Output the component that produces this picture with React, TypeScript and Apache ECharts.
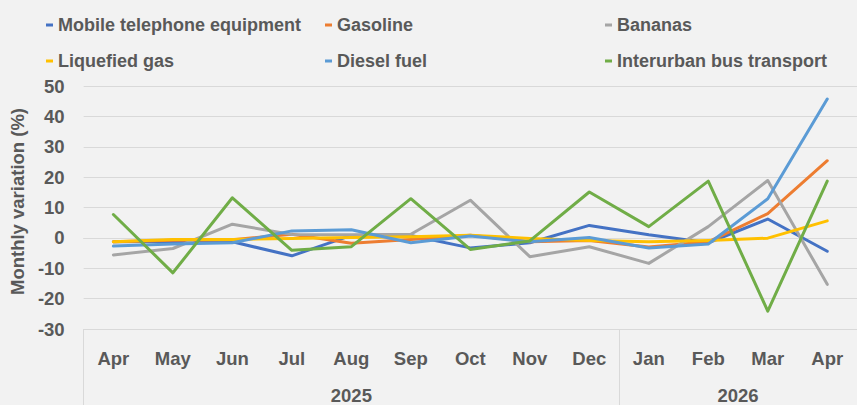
import React, { useEffect, useRef } from "react";
import * as echarts from "echarts";

const months = ["Apr", "May", "Jun", "Jul", "Aug", "Sep", "Oct", "Nov", "Dec", "Jan", "Feb", "Mar", "Apr"];
const years = ["2025", "2026"];
const yearMonthCounts = [9, 4];

const seriesNames = [
  "Mobile telephone equipment",
  "Gasoline",
  "Bananas",
  "Liquefied gas",
  "Diesel fuel",
  "Interurban bus transport",
];

const mobilePhone = [-1.3, -1.2, -1.3, -5.9, 0.8, 0.8, -3.3, -1.6, 4.1, 1.0, -1.6, 6.2, -4.4];
const gasoline = [-1.3, -0.8, -0.6, 1.2, -1.8, -0.5, 0.9, -1.3, -0.9, -3.0, -1.3, 8.0, 25.4];
const bananas = [-5.6, -3.5, 4.5, 1.1, 1.0, 1.2, 12.4, -6.2, -2.9, -8.4, 3.7, 18.9, -15.3];
const liquefiedGas = [-1.3, -0.5, -0.5, -0.2, 0.1, 0.4, 0.9, -0.2, -0.9, -1.3, -0.9, -0.1, 5.6];
const dieselFuel = [-2.7, -2.0, -1.6, 2.3, 2.7, -1.6, 0.6, -1.3, 0.1, -3.3, -2.0, 12.9, 45.7];
const interurbanBus = [7.7, -11.5, 13.2, -4.1, -2.9, 12.9, -3.8, -1.0, 15.1, 3.7, 18.7, -24.1, 18.7];

const seriesValues = [mobilePhone, gasoline, bananas, liquefiedGas, dieselFuel, interurbanBus];
const seriesColors = ["#4472C4", "#ED7D31", "#A5A5A5", "#FFC000", "#5B9BD5", "#70AD47"];

const yMin = -30;
const yMax = 50;
const yInterval = 10;
const yAxisTitle = "Monthly variation (%)";

const FONT = "'Liberation Sans', Arial, sans-serif";
const TEXT_COLOR = "#595959";
const LINE_COLOR = "#D9D9D9";
const FS = 18.5;

export default function App() {
  const ref = useRef<HTMLDivElement>(null);

  useEffect(() => {
    document.body.style.margin = "0";
    document.body.style.background = "#F2F2F2";
    if (!ref.current) return;
    const chart = echarts.init(ref.current, undefined, { renderer: "svg" });

    // half-step slots for the year level of the category axis
    const slotCount = months.length * 2 + 1;
    const yearSlots: string[] = new Array(slotCount).fill("");
    const boundarySlots = new Set<number>();
    let start = 0;
    years.forEach((y, gi) => {
      const c = yearMonthCounts[gi];
      boundarySlots.add(2 * start);
      yearSlots[2 * start + c] = y;
      start += c;
    });
    boundarySlots.add(2 * start);

    const legendText = {
      color: TEXT_COLOR,
      fontFamily: FONT,
      fontWeight: "bold" as const,
      fontSize: 18,
      lineHeight: 22,
    };
    const legendBase = {
      orient: "vertical" as const,
      top: 14,
      padding: 0,
      itemGap: 14,
      itemWidth: 7,
      itemHeight: 3,
      icon: "rect",
      textStyle: legendText,
    };

    chart.setOption({
      animation: false,
      backgroundColor: "#F2F2F2",
      legend: [
        { ...legendBase, left: 46, data: [seriesNames[0], seriesNames[3]] },
        { ...legendBase, left: 325, data: [seriesNames[1], seriesNames[4]] },
        { ...legendBase, left: 605, data: [seriesNames[2], seriesNames[5]] },
      ],
      grid: { left: 80, top: 86, width: 782, height: 246 },
      xAxis: [
        {
          type: "category",
          data: months,
          boundaryGap: true,
          position: "bottom",
          axisLine: { show: true, lineStyle: { color: LINE_COLOR, width: 1 } },
          axisTick: { show: false },
          axisLabel: {
            interval: 0,
            margin: 20,
            color: TEXT_COLOR,
            fontFamily: FONT,
            fontWeight: "bold",
            fontSize: FS,
          },
          splitLine: { show: false },
        },
        {
          type: "category",
          data: yearSlots,
          boundaryGap: false,
          position: "bottom",
          axisLine: { show: false },
          axisTick: {
            show: true,
            interval: (i: number) => boundarySlots.has(i),
            length: 80,
            lineStyle: { color: LINE_COLOR, width: 1 },
          },
          axisLabel: {
            interval: (_i: number, v: string) => v !== "",
            margin: 57,
            color: TEXT_COLOR,
            fontFamily: FONT,
            fontWeight: "bold",
            fontSize: FS,
          },
          splitLine: { show: false },
        },
      ],
      yAxis: {
        type: "value",
        min: yMin,
        max: yMax,
        interval: yInterval,
        name: yAxisTitle,
        nameLocation: "middle",
        nameGap: 51,
        nameTextStyle: {
          color: TEXT_COLOR,
          fontFamily: FONT,
          fontWeight: "bold",
          fontSize: FS,
          padding: [0, 0, 0, 12],
        },
        axisLine: { show: false },
        axisTick: { show: false },
        axisLabel: {
          margin: 19,
          color: TEXT_COLOR,
          fontFamily: FONT,
          fontWeight: "bold",
          fontSize: FS,
        },
        splitLine: { show: true, lineStyle: { color: LINE_COLOR, width: 1 } },
      },
      series: seriesNames.map((name, i) => ({
        name,
        type: "line",
        xAxisIndex: 0,
        data: seriesValues[i],
        symbol: "none",
        color: seriesColors[i],
        lineStyle: { width: 3, color: seriesColors[i], cap: "round", join: "round" },
        z: 2 + i,
      })),
    });

    return () => chart.dispose();
  }, []);

  return <div ref={ref} style={{ width: 857, height: 405, background: "#F2F2F2" }} />;
}
